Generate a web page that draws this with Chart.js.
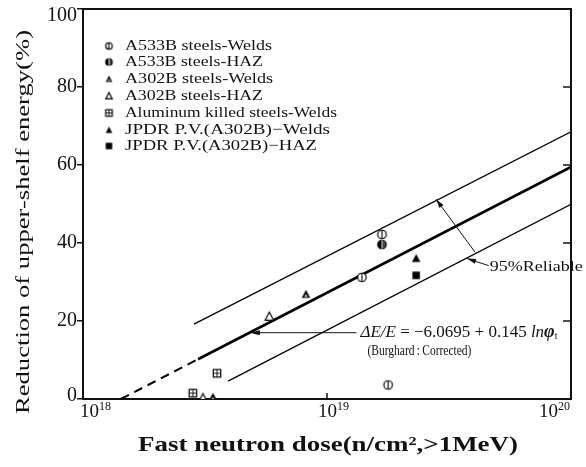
<!DOCTYPE html>
<html><head><meta charset="utf-8">
<script src="https://cdn.jsdelivr.net/npm/chart.js@4/dist/chart.umd.min.js"></script>
<style>html,body{margin:0;padding:0;background:#fff}#wrap{width:586px;height:467px;position:relative}</style>
</head><body><div id="wrap"><canvas id="c" width="586" height="467"></canvas></div>
<script>
// ---------- data ----------
const seriesNames = [
  'A533B steels-Welds',
  'A533B steels-HAZ',
  'A302B steels-Welds',
  'A302B steels-HAZ',
  'Aluminum killed steels-Welds',
  'JPDR P.V.(A302B)\u2212Welds',
  'JPDR P.V.(A302B)\u2212HAZ'
];
const a533bWeldsX = [1.68e19, 1.39e19, 1.78e19];
const a533bWeldsY = [42.2, 31.2, 3.6];
const a533bHazX = [1.68e19];
const a533bHazY = [39.6];
const a302bWeldsX = [8.2e18, 3.41e18];
const a302bWeldsY = [26.9, 0.5];
const a302bHazX = [5.8e18, 3.1e18];
const a302bHazY = [21.2, 0.3];
const aluminumX = [3.54e18, 2.82e18];
const aluminumY = [6.6, 1.5];
const jpdrWeldsX = [2.32e19];
const jpdrWeldsY = [36.1];
const jpdrHazX = [2.32e19];
const jpdrHazY = [31.7];

// fitted line (Burghard, corrected) and 95% band, end points
const fitDashedX = [1.43e18, 2.96e18];
const fitDashedY = [0, 10.2];
const fitSolidX = [2.96e18, 1e20];
const fitSolidY = [10.2, 59.5];
const upperBandX = [2.85e18, 1e20];
const upperBandY = [19.2, 68.5];
const lowerBandX = [3.93e18, 1e20];
const lowerBandY = [4.6, 49.9];

const xTickValues = [1e18, 1e19, 1e20];
const xTickExponents = ['18', '19', '20'];
const yTickValues = [0, 20, 40, 60, 80, 100];

const xTitle = 'Fast neutron dose(n/cm\u00B2,>1MeV)';
const yTitle = 'Reduction of upper-shelf energy(%)';
const reliableLabel = '95%Reliable';
const burghardLabel = '(Burghard\u2009:\u2009Corrected)';

// annotation anchor points in data space
const eqArrowTip = {x: 4.83e18, y: 17.0};
const eqArrowTail = {x: 1.32e19, y: 17.0};
const relUpper = {x: 2.8e19, y: 51.2};
const relLower = {x: 4.05e19, y: 37.6};
const relTextAnchor = {x: 4.6e19, y: 34.2};
const relHead = {x: 3.75e19, y: 36.0};

// ---------- helpers ----------
const SERIF = '"Liberation Serif", "DejaVu Serif", serif';
function zip(xs, ys) { return xs.map((x, i) => ({x, y: ys[i]})); }

function makeMarker(kind, s) {
  const size = Math.ceil(s + 4);
  const c = document.createElement('canvas');
  c.width = c.height = size;
  const g = c.getContext('2d');
  const m = size / 2, r = s / 2;
  g.strokeStyle = '#000'; g.fillStyle = '#000'; g.lineWidth = 1.2;
  if (kind === 'phi' || kind === 'half') {
    g.beginPath(); g.arc(m, m, r, 0, 2 * Math.PI);
    g.fillStyle = '#fff'; g.fill(); g.stroke();
    if (kind === 'half') {
      g.fillStyle = '#000';
      g.beginPath(); g.arc(m, m, r, -Math.PI / 2, Math.PI / 2, true); g.closePath(); g.fill();
      g.beginPath(); g.arc(m, m, r * 0.9, -Math.PI / 2, Math.PI / 2); g.closePath(); g.globalAlpha = 0.75; g.fill(); g.globalAlpha = 1;
    }
    g.beginPath(); g.moveTo(m, m - r); g.lineTo(m, m + r);
    g.strokeStyle = kind === 'half' ? '#fff' : '#000'; g.lineWidth = kind === 'half' ? 0.8 : 1.1; g.stroke();
  } else if (kind === 'tri' || kind === 'otri' || kind === 'ptri') {
    const h = s * 0.9;
    g.beginPath(); g.moveTo(m, m - h / 2 - 0.5); g.lineTo(m + r, m + h / 2); g.lineTo(m - r, m + h / 2); g.closePath();
    if (kind === 'tri') { g.fill(); }
    else if (kind === 'ptri') { g.fill(); g.fillStyle = '#fff'; g.beginPath(); g.moveTo(m, m); g.lineTo(m + r * 0.35, m + h / 2 - 1); g.lineTo(m - r * 0.35, m + h / 2 - 1); g.closePath(); g.fill(); }
    else { g.fillStyle = '#fff'; g.fill(); g.stroke(); }
  } else if (kind === 'gsq') {
    g.fillStyle = '#fff'; g.fillRect(m - r, m - r, s, s);
    g.strokeRect(m - r, m - r, s, s);
    g.beginPath(); g.moveTo(m, m - r); g.lineTo(m, m + r); g.moveTo(m - r, m); g.lineTo(m + r, m); g.lineWidth = 0.9; g.stroke();
  } else if (kind === 'sq') {
    g.fillRect(m - r, m - r, s, s);
  }
  return c;
}
const markerKinds = ['phi', 'half', 'ptri', 'otri', 'gsq', 'tri', 'sq'];
const plotMarkers = markerKinds.map(k => makeMarker(k, k === 'sq' || k === 'gsq' ? 7.5 : 8.5));
const legendMarkers = markerKinds.map(k => makeMarker(k, 6.5));

function fitText(ctx, text, font, left, cy, width) {
  ctx.save();
  ctx.font = font;
  const w = ctx.measureText(text).width;
  ctx.translate(left, cy);
  ctx.scale(width / w, 1);
  ctx.textAlign = 'left'; ctx.textBaseline = 'middle';
  ctx.fillText(text, 0, 0);
  ctx.restore();
}
function drawRuns(ctx, runs, left, cy, width) {
  ctx.save();
  let total = 0;
  runs.forEach(r => { ctx.font = r.f; r.w = ctx.measureText(r.t).width; total += r.w; });
  ctx.translate(left, cy);
  ctx.scale(width / total, 1);
  ctx.textAlign = 'left'; ctx.textBaseline = 'middle';
  let x = 0;
  runs.forEach(r => { ctx.font = r.f; ctx.fillText(r.t, x, r.dy || 0); x += r.w; });
  ctx.restore();
}
function arrowHead(ctx, x1, y1, x2, y2, len, wid) {
  const a = Math.atan2(y2 - y1, x2 - x1);
  ctx.beginPath();
  ctx.moveTo(x2, y2);
  ctx.lineTo(x2 - len * Math.cos(a) + wid * Math.sin(a), y2 - len * Math.sin(a) - wid * Math.cos(a));
  ctx.lineTo(x2 - len * Math.cos(a) - wid * Math.sin(a), y2 - len * Math.sin(a) + wid * Math.cos(a));
  ctx.closePath(); ctx.fill();
}

// ---------- datasets ----------
const pointSets = [
  [a533bWeldsX, a533bWeldsY], [a533bHazX, a533bHazY], [a302bWeldsX, a302bWeldsY],
  [a302bHazX, a302bHazY], [aluminumX, aluminumY], [jpdrWeldsX, jpdrWeldsY], [jpdrHazX, jpdrHazY]
];
const datasets = pointSets.map((p, i) => ({
  label: seriesNames[i],
  data: zip(p[0], p[1]),
  pointStyle: plotMarkers[i],
  pointRadius: 4, pointHoverRadius: 4,
  showLine: false, order: 0
}));
datasets.push(
  {label: 'fit dashed', data: zip(fitDashedX, fitDashedY), showLine: true, borderColor: '#000', borderWidth: 2, borderDash: [9, 6], pointRadius: 0, order: 1},
  {label: 'fit', data: zip(fitSolidX, fitSolidY), showLine: true, borderColor: '#000', borderWidth: 2.6, pointRadius: 0, order: 1},
  {label: 'upper 95%', data: zip(upperBandX, upperBandY), showLine: true, borderColor: '#000', borderWidth: 1.3, pointRadius: 0, order: 1},
  {label: 'lower 95%', data: zip(lowerBandX, lowerBandY), showLine: true, borderColor: '#000', borderWidth: 1.3, pointRadius: 0, order: 1}
);

// ---------- decorations plugin ----------
const deco = {
  id: 'deco',
  afterDraw(chart) {
    const ctx = chart.ctx, a = chart.chartArea;
    const xs = chart.scales.x, ys = chart.scales.y;
    ctx.save();
    ctx.fillStyle = '#111'; ctx.strokeStyle = '#111';
    // frame: top and right
    ctx.lineWidth = 2;
    ctx.beginPath();
    ctx.moveTo(a.left - 1, a.top); ctx.lineTo(a.right, a.top); ctx.lineTo(a.right, a.bottom + 1);
    ctx.stroke();
    // right axis inward ticks
    ctx.lineWidth = 1.5;
    yTickValues.slice(1, -1).forEach(v => {
      const py = ys.getPixelForValue(v);
      ctx.beginPath(); ctx.moveTo(a.right, py); ctx.lineTo(a.right - 8, py); ctx.stroke();
    });
    // inner x tick at middle decade
    const px19 = xs.getPixelForValue(xTickValues[1]);
    ctx.beginPath(); ctx.moveTo(px19, a.bottom); ctx.lineTo(px19, a.bottom - 6); ctx.stroke();
    // y tick labels
    ctx.font = '20px ' + SERIF; ctx.textAlign = 'right'; ctx.textBaseline = 'middle';
    yTickValues.forEach((v, i) => {
      let py = ys.getPixelForValue(v);
      if (i === yTickValues.length - 1) py += 7;
      if (i === 0) py -= 3;
      ctx.fillText(String(v), a.left - 6, py);
    });
    // x tick labels
    xTickValues.forEach((v, i) => {
      const px = xs.getPixelForValue(v);
      ctx.font = '19px ' + SERIF; ctx.textAlign = 'left'; ctx.textBaseline = 'middle';
      const w = ctx.measureText('10').width;
      ctx.font = '12px ' + SERIF;
      const we = ctx.measureText(xTickExponents[i]).width;
      const left = i === 0 ? px - 3 : (i === 1 ? px - 9 : px - w - we - 1);
      ctx.font = '19px ' + SERIF;
      ctx.fillText('10', left, a.bottom + 13);
      ctx.font = '12px ' + SERIF;
      ctx.fillText(xTickExponents[i], left + w, a.bottom + 8);
    });
    // axis titles
    fitText(ctx, xTitle, 'bold 22px ' + SERIF, 138, 445, 380);
    ctx.save();
    ctx.translate(24, 222); ctx.rotate(-Math.PI / 2);
    fitText(ctx, yTitle, '19px ' + SERIF, -192, 0, 384);
    ctx.restore();
    // legend
    const rowsY = [46, 62, 79, 96, 113, 130, 146];
    const rowsEnd = [272, 263, 273, 263, 337, 330, 317];
    rowsY.forEach((ry, i) => {
      const mk = legendMarkers[i];
      ctx.drawImage(mk, 109 - mk.width / 2, ry - mk.height / 2);
      fitText(ctx, seriesNames[i], '15px ' + SERIF, 125, ry, rowsEnd[i] - 125);
    });
    // equation arrow
    const tipX = xs.getPixelForValue(eqArrowTip.x), tipY = ys.getPixelForValue(eqArrowTip.y);
    const tailX = xs.getPixelForValue(eqArrowTail.x);
    ctx.lineWidth = 1;
    ctx.beginPath(); ctx.moveTo(tailX, tipY); ctx.lineTo(tipX + 6, tipY); ctx.stroke();
    arrowHead(ctx, tailX, tipY, tipX, tipY, 10, 2.5);
    drawRuns(ctx, [
      {t: '\u0394E/E', f: 'italic 17px ' + SERIF},
      {t: ' = \u22126.0695 + 0.145 ', f: '17px ' + SERIF},
      {t: 'ln', f: 'italic 17px ' + SERIF},
      {t: '\u03C6', f: 'bold italic 18px ' + SERIF},
      {t: 't', f: '10px ' + SERIF, dy: 4}
    ], tailX + 4, tipY, 197);
    fitText(ctx, burghardLabel, '14px ' + SERIF, tailX + 11, tipY + 19, 104);
    // 95% reliable arrows
    const ux = xs.getPixelForValue(relUpper.x), uy = ys.getPixelForValue(relUpper.y);
    const lx = xs.getPixelForValue(relLower.x), ly = ys.getPixelForValue(relLower.y);
    ctx.beginPath(); ctx.moveTo(lx, ly); ctx.lineTo(ux, uy); ctx.stroke();
    arrowHead(ctx, lx, ly, ux, uy, 9, 2.5);
    const tx = xs.getPixelForValue(relTextAnchor.x), ty = ys.getPixelForValue(relTextAnchor.y);
    const hx = xs.getPixelForValue(relHead.x), hy = ys.getPixelForValue(relHead.y);
    ctx.beginPath(); ctx.moveTo(tx, ty); ctx.lineTo(hx, hy); ctx.stroke();
    arrowHead(ctx, tx, ty, hx, hy, 9, 2.5);
    fitText(ctx, reliableLabel, '15px ' + SERIF, tx + 1, ty + 1, 93);
    ctx.restore();
  }
};

new Chart(document.getElementById('c'), {
  type: 'scatter',
  data: {datasets},
  options: {
    responsive: false, animation: false, devicePixelRatio: 1,
    layout: {padding: {top: 9, right: 15, left: 0, bottom: 0}},
    plugins: {legend: {display: false}, tooltip: {enabled: false}},
    scales: {
      x: {
        type: 'logarithmic', min: xTickValues[0], max: xTickValues[2],
        afterBuildTicks: ax => { ax.ticks = xTickValues.map(v => ({value: v})); },
        afterFit: ax => { ax.height = 68; },
        ticks: {display: false},
        grid: {display: false},
        border: {display: true, color: '#111', width: 2}
      },
      y: {
        min: 0, max: 100,
        afterBuildTicks: ax => { ax.ticks = yTickValues.map(v => ({value: v})); },
        afterFit: ax => { ax.width = 83; },
        ticks: {display: false},
        grid: {drawOnChartArea: false, drawTicks: true, tickLength: 6, color: '#111', lineWidth: 1.5},
        border: {display: true, color: '#111', width: 2}
      }
    }
  },
  plugins: [deco]
});
</script>
</body></html>
